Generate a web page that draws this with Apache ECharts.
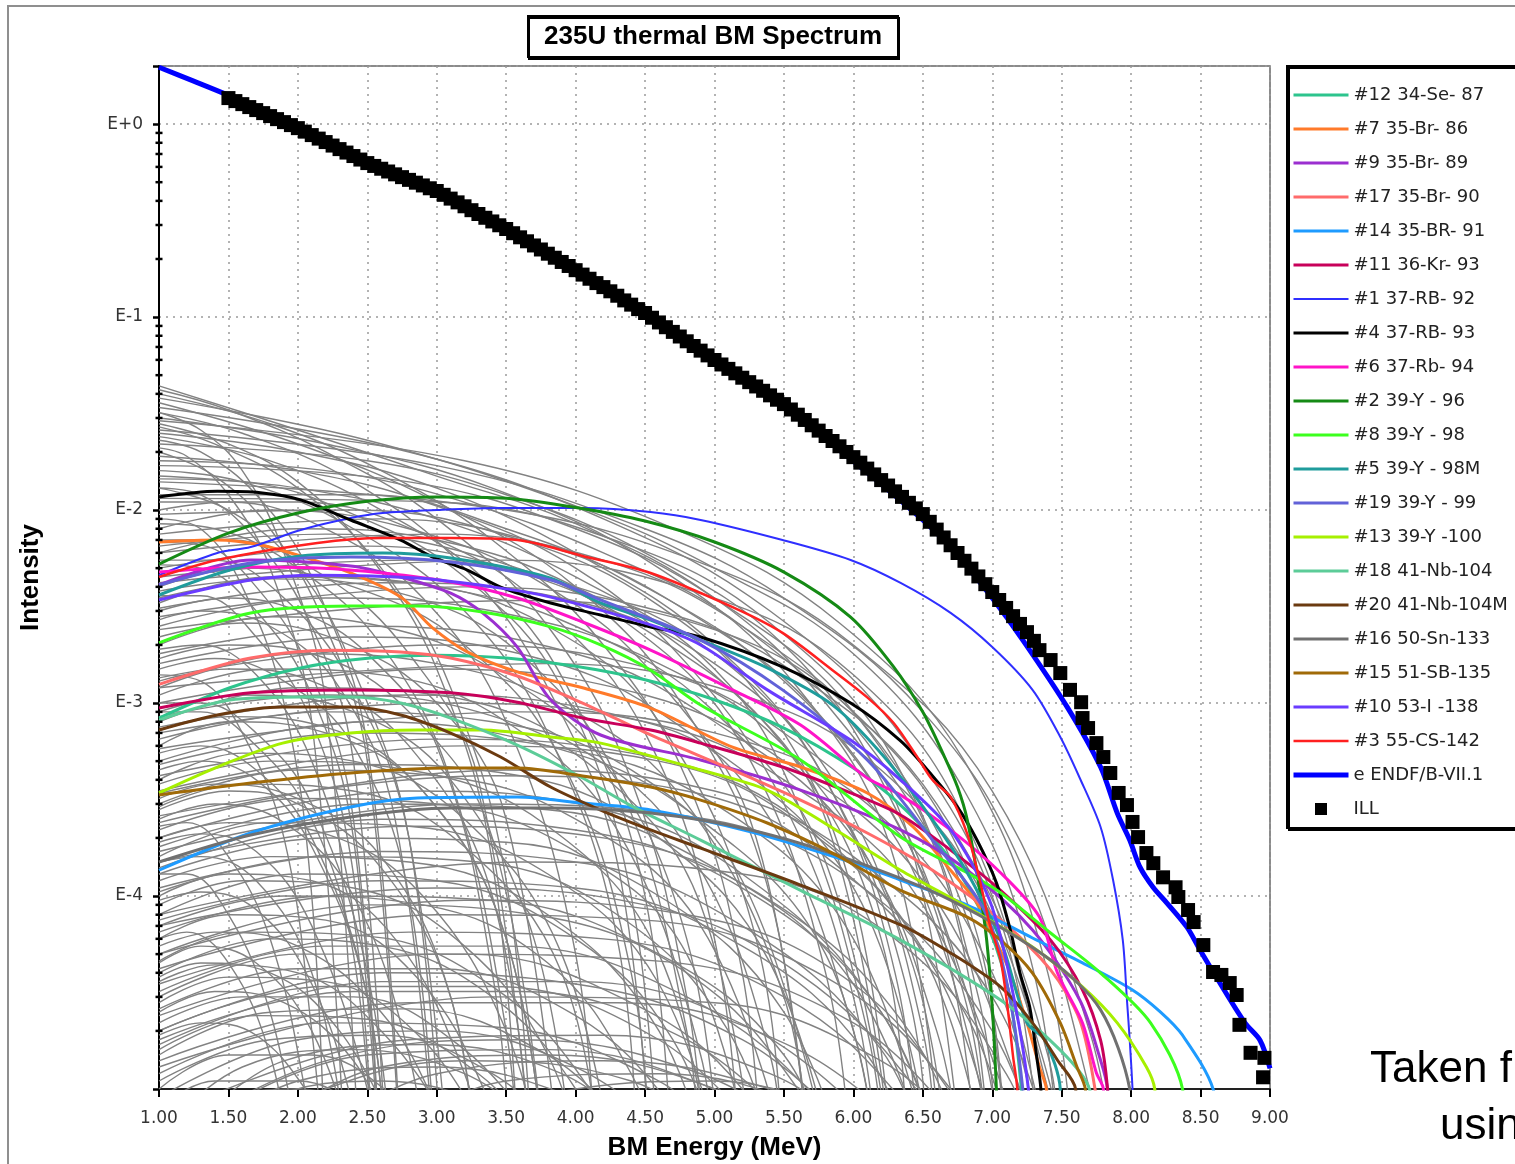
<!DOCTYPE html>
<html>
<head>
<meta charset="utf-8">
<title>235U thermal BM Spectrum</title>
<script src="https://cdn.jsdelivr.net/npm/echarts@6/dist/echarts.min.js"></script>
<style>
html, body { margin: 0; padding: 0; background: #fff; }
#chart { width: 1515px; height: 1164px; }
</style>
</head>
<body>
<div id="chart"></div>
<script>
// y tick labels of the log axis
var yTickValues = [1e-4, 1e-3, 1e-2, 1e-1, 1];
var yTickLabels = ['E-4', 'E-3', 'E-2', 'E-1', 'E+0'];
var minorTicks = [2e-5,3e-5,4e-5,5e-5,6e-5,7e-5,8e-5,9e-5,
  2e-4,3e-4,4e-4,5e-4,6e-4,7e-4,8e-4,9e-4,
  2e-3,3e-3,4e-3,5e-3,6e-3,7e-3,8e-3,9e-3,
  2e-2,3e-2,4e-2,5e-2,6e-2,7e-2,8e-2,9e-2,
  0.2,0.3,0.4,0.5,0.6,0.7,0.8,0.9];

// ILL measured points [MeV, intensity]
var ill = [[1.50,1.364],[1.55,1.316],[1.60,1.269],[1.65,1.225],[1.70,1.182],[1.75,1.140],[1.80,1.100],[1.85,1.061],[1.90,1.024],[1.95,0.988],
[2.00,0.953],[2.05,0.914],[2.10,0.877],[2.15,0.841],[2.20,0.807],[2.25,0.774],[2.30,0.742],[2.35,0.712],[2.40,0.683],[2.45,0.655],
[2.50,0.628],[2.55,0.607],[2.60,0.587],[2.65,0.568],[2.70,0.549],[2.75,0.531],[2.80,0.514],[2.85,0.497],[2.90,0.481],[2.95,0.465],
[3.00,0.450],[3.05,0.430],[3.10,0.411],[3.15,0.393],[3.20,0.375],[3.25,0.358],[3.30,0.342],[3.35,0.327],[3.40,0.313],[3.45,0.299],
[3.50,0.286],[3.55,0.272],[3.60,0.259],[3.65,0.247],[3.70,0.235],[3.75,0.224],[3.80,0.213],[3.85,0.203],[3.90,0.193],[3.95,0.184],
[4.00,0.175],[4.05,0.166],[4.10,0.158],[4.15,0.150],[4.20,0.143],[4.25,0.136],[4.30,0.129],[4.35,0.122],[4.40,0.116],[4.45,0.110],
[4.50,0.105],[4.55,0.0992],[4.60,0.0938],[4.65,0.0886],[4.70,0.0838],[4.75,0.0793],[4.80,0.0749],[4.85,0.0708],[4.90,0.0670],[4.95,0.0633],
[5.00,0.0599],[5.05,0.0568],[5.10,0.0539],[5.15,0.0511],[5.20,0.0485],[5.25,0.0460],[5.30,0.0437],[5.35,0.0415],[5.40,0.0393],[5.45,0.0373],
[5.50,0.0354],[5.55,0.0332],[5.60,0.0312],[5.65,0.0293],[5.70,0.0275],[5.75,0.0258],[5.80,0.0242],[5.85,0.0228],[5.90,0.0214],[5.95,0.0200],
[6.00,0.0188],[6.05,0.0176],[6.10,0.0164],[6.15,0.0153],[6.20,0.0143],[6.25,0.0134],[6.30,0.0125],[6.35,0.0117],[6.40,0.0109],[6.45,0.0102],
[6.50,0.00953],[6.55,0.00869],[6.60,0.00792],[6.65,0.00721],[6.70,0.00657],[6.75,0.00599],[6.80,0.00546],[6.85,0.00497],[6.90,0.00453],[6.95,0.00413],
[7.00,0.00376],[7.05,0.00342],[7.10,0.00311],[7.15,0.00282],[7.20,0.00257],[7.25,0.00233],[7.30,0.00210],
[7.34,0.00188],[7.42,0.00167],[7.49,0.00143],[7.56,0.00117],[7.64,0.00101],[7.65,0.000836],[7.69,0.000742],[7.75,0.000620],
[7.80,0.000525],[7.85,0.000434],[7.91,0.000342],[7.97,0.000296],[8.01,0.000242],[8.05,0.000202],[8.11,0.000167],[8.16,0.000148],
[8.23,0.000125],[8.32,0.000111],[8.34,0.0000988],[8.41,0.0000846],[8.45,0.0000733],[8.52,0.0000557],[8.59,0.0000404],[8.65,0.0000390],
[8.71,0.0000354],[8.76,0.0000307],[8.78,0.0000215],[8.86,0.0000154],[8.96,0.0000145],[8.95,0.0000115]];

// ENDF/B-VII.1 summation
var endf = [[1.0,1.97],[1.25,1.67],[1.5,1.41],[2.0,0.976],[2.5,0.635],[3.0,0.45],[3.5,0.283],[4.0,0.171],[4.5,0.101],
[5.0,5.78e-2],[5.5,3.38e-2],[6.0,1.79e-2],[6.5,8.88e-3],[6.75,5.85e-3],[7.0,3.5e-3],[7.22,2.12e-3],[7.54,9.53e-4],
[7.78,4.66e-4],[7.9,2.69e-4],[7.99,1.95e-4],[8.064,1.41e-4],[8.158,1.11e-4],[8.258,9.2e-5],[8.402,6.9e-5],
[8.496,5.25e-5],[8.626,3.67e-5],[8.82,2.2e-5],[8.928,1.79e-5],[9.0,1.28e-5]];

// individual nuclides
var se87 = [[1.0,8.36e-4],[1.51,1.2e-3],[2.02,1.52e-3],[2.52,1.71e-3],[3.0,1.77e-3],[3.5,1.71e-3],[4.0,1.55e-3],[4.5,1.32e-3],[5.0,1.04e-3],[5.5,7.42e-4],[6.0,4.6e-4],[6.34,2.96e-4],[6.7,1.54e-4],[6.98,6.67e-5],[7.13,2.89e-5],[7.21,1e-5],[7.25,4e-6]];
var br86 = [[1.0,6.83e-3],[1.42,6.99e-3],[1.73,6.59e-3],[2.02,5.78e-3],[2.38,4.72e-3],[2.74,3.54e-3],[2.97,2.45e-3],[3.22,1.84e-3],[3.58,1.45e-3],[4.05,1.2e-3],[4.54,9.42e-4],[5.13,5.91e-4],[5.62,4.66e-4],[6.1,3.42e-4],[6.43,2.28e-4],[6.7,1.36e-4],[6.89,9.2e-5],[7.0,6.43e-5],[7.13,3.99e-5],[7.25,2.2e-5],[7.34,1.3e-5],[7.39,1e-5],[7.42,4e-6]];
var br89 = [[1.0,4.09e-3],[1.66,5.51e-3],[2.38,5.13e-3],[2.74,4.5e-3],[3.1,3.71e-3],[3.33,2.93e-3],[3.58,1.95e-3],[3.82,1.04e-3],[4.18,6.83e-4],[4.9,5.07e-4],[5.62,3.54e-4],[6.34,2.2e-4],[6.82,1.36e-4],[7.29,6.67e-5],[7.63,2.89e-5],[7.78,1.41e-5],[7.83,1e-5],[7.86,4e-6]];
var br90 = [[1.0,1.25e-3],[1.66,1.71e-3],[2.25,1.88e-3],[2.74,1.84e-3],[3.1,1.71e-3],[3.58,1.38e-3],[4.05,1e-3],[4.54,6.83e-4],[5.13,4.5e-4],[5.62,3.14e-4],[6.1,2.12e-4],[6.57,1.36e-4],[7.06,7.51e-5],[7.42,4.14e-5],[7.63,2.28e-5],[7.74,1e-5],[7.8,4e-6]];
var br91 = [[1.0,1.36e-4],[1.66,2.12e-4],[2.38,2.89e-4],[2.86,3.22e-4],[3.58,3.26e-4],[4.05,3.03e-4],[4.54,2.79e-4],[5.26,2.15e-4],[5.98,1.5e-4],[6.34,1.21e-4],[6.82,8.98e-5],[7.29,6.06e-5],[7.65,4.5e-5],[8.01,3.26e-5],[8.21,2.51e-5],[8.37,1.9e-5],[8.59,1e-5],[8.65,4e-6]];
var kr93 = [[1.0,9.42e-4],[1.66,1.13e-3],[2.38,1.17e-3],[3.1,1.13e-3],[3.58,1.01e-3],[4.05,8.36e-4],[4.54,7.25e-4],[4.9,6.2e-4],[5.49,4.66e-4],[5.98,3.42e-4],[6.34,2.63e-4],[6.7,1.73e-4],[7.06,1.07e-4],[7.42,5.91e-5],[7.65,3.26e-5],[7.78,1.79e-5],[7.83,1e-5],[7.86,4e-6]];
var rb92 = [[1.0,4.6e-3],[1.42,5.99e-3],[1.66,6.43e-3],[2.02,7.88e-3],[2.38,9.09e-3],[2.61,9.65e-3],[3.0,1.0e-2],[3.46,1.024e-2],[4.05,1.024e-2],[4.54,9.76e-3],[4.9,8.88e-3],[5.49,6.99e-3],[5.98,5.51e-3],[6.34,4.19e-3],[6.7,2.93e-3],[7.0,1.95e-3],[7.29,1.17e-3],[7.49,6.67e-4],[7.63,4.09e-4],[7.78,2.28e-4],[7.87,1.21e-4],[7.94,5.91e-5],[7.97,2.89e-5],[7.99,1.79e-5],[8.01,1e-5],[8.03,4e-6]];
var rb93 = [[1.0,1.168e-2],[1.42,1.25e-2],[1.73,1.23e-2],[2.02,1.13e-2],[2.38,8.88e-3],[2.74,6.99e-3],[2.97,5.71e-3],[3.22,4.89e-3],[3.46,3.99e-3],[3.82,3.3e-3],[4.18,2.86e-3],[4.54,2.48e-3],[4.9,2.2e-3],[5.49,1.54e-3],[5.98,1.0e-3],[6.34,6.36e-4],[6.57,4.19e-4],[6.75,2.89e-4],[6.89,1.95e-4],[7.03,1.17e-4],[7.13,6.67e-5],[7.2,3.99e-5],[7.27,2.66e-5],[7.32,1.47e-5],[7.35,1e-5],[7.37,4e-6]];
var rb94 = [[1.0,4.77e-3],[1.66,5.07e-3],[2.14,5.01e-3],[2.61,4.72e-3],[3.1,4.24e-3],[3.58,3.5e-3],[4.05,2.63e-3],[4.54,1.88e-3],[5.13,1.17e-3],[5.62,7.69e-4],[6.1,4.09e-4],[6.34,3.34e-4],[6.7,2.2e-4],[7.06,1.32e-4],[7.34,7.78e-5],[7.47,3.99e-5],[7.65,2.2e-5],[7.75,1.21e-5],[7.8,1e-5],[7.82,4e-6]];
var y96 = [[1.0,5.25e-3],[1.5,7.6e-3],[2.0,9.65e-3],[2.5,1.11e-2],[3.0,1.17e-2],[3.5,1.15e-2],[4.0,1.03e-2],[4.5,8.77e-3],[5.0,6.83e-3],[5.5,4.77e-3],[5.98,2.79e-3],[6.29,1.54e-3],[6.5,8.98e-4],[6.65,5.38e-4],[6.75,3.67e-4],[6.82,2.48e-4],[6.91,1.07e-4],[6.96,5.9e-5],[7.0,2.66e-5],[7.03,1.0e-5],[7.05,4e-6]];
var y98 = [[1.0,2.05e-3],[1.66,2.93e-3],[2.38,3.18e-3],[2.86,3.18e-3],[3.33,2.96e-3],[3.82,2.48e-3],[4.18,2.0e-3],[4.54,1.48e-3],[4.9,9.76e-4],[5.62,5.07e-4],[6.34,2.02e-4],[6.82,1.32e-4],[7.06,1.04e-4],[7.42,6.43e-5],[7.78,3.99e-5],[8.14,2.2e-5],[8.37,1e-5],[8.4,4e-6]];
var y98m = [[1.0,3.63e-3],[1.51,4.89e-3],[2.02,5.78e-3],[2.61,5.99e-3],[3.1,5.64e-3],[3.82,4.44e-3],[4.18,3.3e-3],[4.54,2.69e-3],[4.9,2.12e-3],[5.38,1.52e-3],[5.85,9.76e-4],[6.21,5.38e-4],[6.57,2.48e-4],[6.82,1.32e-4],[7.06,5.91e-5],[7.25,2.2e-5],[7.38,1.79e-5],[7.49,1e-5],[7.5,4e-6]];
var y99 = [[1.0,4.09e-3],[1.66,5.31e-3],[2.38,5.71e-3],[3.1,5.38e-3],[3.82,4.34e-3],[4.18,3.42e-3],[4.9,2.12e-3],[5.49,1.17e-3],[6.1,5.07e-4],[6.57,1.95e-4],[6.93,8.77e-5],[7.09,3.99e-5],[7.22,1e-5],[7.24,4e-6]];
var y100 = [[1.0,3.42e-4],[1.42,4.66e-4],[1.89,6.2e-4],[2.38,6.99e-4],[2.86,7.25e-4],[3.33,7.25e-4],[3.82,6.67e-4],[4.18,6.2e-4],[4.9,4.5e-4],[5.38,3.54e-4],[5.85,2.25e-4],[6.34,1.36e-4],[6.82,8.77e-5],[7.29,5.44e-5],[7.65,3.38e-5],[7.9,2.2e-5],[8.11,1.3e-5],[8.17,1e-5],[8.2,4e-6]];
var nb104 = [[1.0,8.16e-4],[1.51,1.036e-3],[2.02,1.074e-3],[2.38,1.074e-3],[2.74,1e-3],[3.1,8.36e-4],[3.58,6.06e-4],[4.05,4.09e-4],[4.39,2.96e-4],[4.9,1.95e-4],[5.62,1.07e-4],[6.34,5.91e-5],[7.06,2.89e-5],[7.49,1.59e-5],[7.7,1e-5],[7.75,4e-6]];
var nb104m = [[1.0,7.25e-4],[1.42,8.67e-4],[1.89,9.53e-4],[2.38,9.53e-4],[2.74,8.67e-4],[3.1,6.99e-4],[3.46,5.25e-4],[3.82,3.67e-4],[4.18,2.79e-4],[4.54,2.2e-4],[4.9,1.77e-4],[5.62,1.14e-4],[6.34,7.08e-5],[6.7,5.07e-5],[7.06,3.38e-5],[7.29,2.2e-5],[7.47,1.41e-5],[7.6,1e-5],[7.62,4e-6]];
var sn133 = [[1.0,1.5e-4],[1.66,2.07e-4],[2.38,2.57e-4],[3.1,2.86e-4],[3.82,2.86e-4],[4.54,2.69e-4],[5.26,2.2e-4],[5.98,1.54e-4],[6.7,9.53e-5],[7.42,4.66e-5],[7.78,2.57e-5],[7.99,1e-5],[8.02,4e-6]];
var sb135 = [[1.0,3.34e-4],[1.66,3.85e-4],[2.38,4.34e-4],[3.1,4.6e-4],[3.58,4.6e-4],[4.05,4.19e-4],[4.54,3.67e-4],[4.9,3.14e-4],[5.38,2.39e-4],[5.85,1.67e-4],[6.34,1.07e-4],[6.82,7.78e-5],[7.06,5.91e-5],[7.29,3.99e-5],[7.49,2.2e-5],[7.61,1.3e-5],[7.67,1e-5],[7.7,4e-6]];
var i138 = [[1.0,3.42e-3],[1.66,4.34e-3],[2.14,4.6e-3],[2.86,4.44e-3],[3.46,3.94e-3],[3.82,3.54e-3],[4.54,2.54e-3],[4.9,2.0e-3],[5.38,1.17e-3],[5.98,6.43e-4],[6.34,3.99e-4],[6.7,2.2e-4],[6.98,9.53e-5],[7.13,3.67e-5],[7.26,1e-5],[7.28,4e-6]];
var cs142 = [[1.0,4.5e-3],[1.42,5.51e-3],[2.14,6.75e-3],[2.61,7.16e-3],[3.1,7.16e-3],[3.58,6.99e-3],[4.05,5.78e-3],[4.54,4.72e-3],[5.13,3.14e-3],[5.49,2.31e-3],[5.85,1.48e-3],[6.1,1.07e-3],[6.29,7.88e-4],[6.46,5.25e-4],[6.57,3.99e-4],[6.7,3.26e-4],[6.82,2.1e-4],[6.91,1.21e-4],[6.98,7.25e-5],[7.06,4.66e-5],[7.11,2.66e-5],[7.15,1.47e-5],[7.18,1e-5],[7.19,4e-6]];

// the other fission products (grey)
var grayCurves = [
[[1,4.4e-2],[2,2.6e-2],[3,1.5e-2],[4,8.5e-3],[5,3.5e-3],[5.8,1e-3],[6.4,2e-4],[6.8,3e-6]],
[[1,4e-2],[1.8,2.8e-2],[2.6,1.6e-2],[3.4,7e-3],[4.2,2e-3],[4.8,4e-4],[5.2,4e-5],[5.35,3e-6]],
[[1,3.6e-2],[2,2.2e-2],[3,1.1e-2],[4,4e-3],[4.8,9e-4],[5.4,1e-4],[5.7,3e-6]],
[[1,3.2e-2],[1.6,2.5e-2],[2.4,1.4e-2],[3.2,5e-3],[3.8,1.2e-3],[4.3,1.5e-4],[4.55,3e-6]],
[[1,3e-2],[2.2,2.2e-2],[3.4,1.3e-2],[4.6,5e-3],[5.6,1.2e-3],[6.3,1.5e-4],[6.65,3e-6]],
[[1,2.8e-2],[1.5,2.2e-2],[2,1.4e-2],[2.5,6e-3],[3,1.5e-3],[3.4,1.5e-4],[3.6,3e-6]],
[[1,2.5e-2],[2,2e-2],[3,1.3e-2],[4,6e-3],[5,2e-3],[5.8,4e-4],[6.3,4e-5],[6.5,3e-6]],
[[1,2.4e-2],[1.8,1.8e-2],[2.6,1e-2],[3.4,4e-3],[4,1e-3],[4.5,1e-4],[4.7,3e-6]],
[[1,2.2e-2],[2.5,1.8e-2],[3.5,1.2e-2],[4.5,6e-3],[5.5,2e-3],[6.2,4e-4],[6.8,3e-5],[7,3e-6]],
[[1,2e-2],[1.4,1.5e-2],[1.8,8e-3],[2.2,2.5e-3],[2.5,5e-4],[2.75,3e-6]],
[[1,1.9e-2],[2,1.6e-2],[3,1.05e-2],[4,5e-3],[4.8,1.6e-3],[5.5,3e-4],[6,3e-5],[6.2,3e-6]],
[[1,1.8e-2],[2.2,1.6e-2],[3.2,1.1e-2],[4.2,6e-3],[5.2,2.5e-3],[6.2,5e-4],[6.9,5e-5],[7.1,3e-6]],
[[1,1.6e-2],[1.6,1.4e-2],[2.4,8e-3],[3.2,3e-3],[3.8,7e-4],[4.3,6e-5],[4.45,3e-6]],
[[1,1.5e-2],[2,1.3e-2],[3,9e-3],[4,4.5e-3],[5,1.5e-3],[5.6,3e-4],[6.1,2e-5],[6.25,3e-6]],
[[1,1.3e-2],[1.5,1e-2],[2,5e-3],[2.4,1.5e-3],[2.8,2e-4],[3.05,3e-6]],
[[1,1.2e-2],[2.5,1.2e-2],[3.5,8e-3],[4.5,4e-3],[5.5,1.3e-3],[6.3,2.5e-4],[6.9,2e-5],[7.1,3e-6]],
[[1,3.8e-2],[2.5,2.3e-2],[4,1.05e-2],[5,5e-3],[6,1.8e-3],[6.8,3.5e-4],[7.3,4e-5],[7.5,3e-6]],
[[1,2.6e-2],[3,1.7e-2],[4.5,8e-3],[5.5,3.5e-3],[6.5,9e-4],[7.2,1.5e-4],[7.7,1e-5],[7.8,3e-6]],
[[1,8e-3],[1.8,1e-2],[2.8,8e-3],[3.8,4e-3],[4.6,1.3e-3],[5.3,2e-4],[5.7,3e-6]],
[[1,6e-3],[2,8e-3],[3,7e-3],[4,4e-3],[5,1.4e-3],[5.8,2.5e-4],[6.3,3e-6]],
[[1,7e-3],[1.5,7e-3],[2.2,4.5e-3],[2.8,1.8e-3],[3.3,4e-4],[3.7,3e-6]],
[[1,5e-3],[2.5,6.5e-3],[3.5,5e-3],[4.5,2.4e-3],[5.5,6e-4],[6.2,6e-5],[6.4,3e-6]],
[[1,4e-3],[1.6,5e-3],[2.4,4e-3],[3.2,2e-3],[3.9,5e-4],[4.4,4e-5],[4.55,3e-6]],
[[1,3.5e-3],[2,4.5e-3],[3,4e-3],[4,2.5e-3],[5,9e-4],[5.8,1.5e-4],[6.3,3e-6]],
[[1,3e-3],[1.5,3.5e-3],[2,3e-3],[2.5,1.8e-3],[3,6e-4],[3.4,4e-5],[3.55,3e-6]],
[[1,2.5e-3],[2.2,3.5e-3],[3.4,3e-3],[4.6,1.6e-3],[5.6,5e-4],[6.4,5e-5],[6.7,3e-6]],
[[1,2e-3],[1.8,2.8e-3],[2.6,2.5e-3],[3.4,1.5e-3],[4.2,5e-4],[4.8,6e-5],[5.05,3e-6]],
[[1,1.8e-3],[2.5,2.5e-3],[4,1.8e-3],[5,8e-4],[6,2e-4],[6.6,2e-5],[6.8,3e-6]],
[[1,1.5e-3],[1.4,1.7e-3],[1.9,1.3e-3],[2.4,6e-4],[2.8,1e-4],[3,3e-6]],
[[1,1.2e-3],[2,1.8e-3],[3,1.6e-3],[4,9e-4],[4.8,3e-4],[5.5,3e-5],[5.7,3e-6]],
[[1,1e-3],[3,1.5e-3],[4.5,1.1e-3],[5.5,5e-4],[6.5,1.2e-4],[7.2,1e-5],[7.3,3e-6]],
[[1,9e-3],[1.3,8e-3],[1.6,4e-3],[1.9,1e-3],[2.1,1e-4],[2.2,3e-6]],
[[1,6e-3],[3,7.5e-3],[4.2,5.5e-3],[5.2,2.5e-3],[6.2,6e-4],[6.9,6e-5],[7.1,3e-6]],
[[1,4.5e-3],[2.8,5.5e-3],[4,4e-3],[5,1.8e-3],[5.8,4e-4],[6.4,3e-5],[6.55,3e-6]],
[[1,3.3e-3],[1.8,4.5e-3],[2.8,4.2e-3],[3.8,2.5e-3],[4.6,8e-4],[5.3,6e-5],[5.5,3e-6]],
[[1,2.2e-3],[1.6,2.6e-3],[2.3,2.1e-3],[3,1e-3],[3.5,2.5e-4],[3.9,3e-6]],
[[1,8e-4],[2,1.2e-3],[3,1.1e-3],[4,6e-4],[4.8,1.8e-4],[5.4,1.5e-5],[5.5,3e-6]],
[[1,6e-4],[1.5,8e-4],[2.2,7e-4],[2.9,3.5e-4],[3.5,6e-5],[3.8,3e-6]],
[[1,5e-4],[2.5,8e-4],[3.8,6e-4],[4.8,2.8e-4],[5.8,5e-5],[6.2,3e-6]],
[[1,4e-4],[1.6,5.5e-4],[2.4,5e-4],[3.2,2.5e-4],[3.9,5e-5],[4.3,3e-6]],
[[1,3e-4],[2,4.5e-4],[3,4.2e-4],[4,2.5e-4],[4.9,7e-5],[5.5,5e-6]],
[[1,2.5e-4],[1.4,3e-4],[1.9,2.4e-4],[2.4,1e-4],[2.8,1.5e-5],[2.95,3e-6]],
[[1,2e-4],[2.8,3.5e-4],[4.2,2.8e-4],[5.2,1.3e-4],[6.2,2.5e-5],[6.7,3e-6]],
[[1,1.6e-4],[1.8,2.4e-4],[2.8,2.3e-4],[3.8,1.3e-4],[4.6,3.5e-5],[5.1,3e-6]],
[[1,1.3e-4],[2.2,2e-4],[3.5,1.9e-4],[4.6,1e-4],[5.5,2.5e-5],[6,3e-6]],
[[1,1e-4],[1.5,1.3e-4],[2.1,1.2e-4],[2.7,6e-5],[3.2,1.2e-5],[3.4,3e-6]],
[[1,9e-4],[1.3,9e-4],[1.7,6e-4],[2.1,2.5e-4],[2.4,5e-5],[2.55,3e-6]],
[[1,7e-4],[3,1e-3],[4.5,8e-4],[5.5,4e-4],[6.5,9e-5],[7.2,5e-6]],
[[1,3.5e-4],[3.2,6e-4],[4.6,5e-4],[5.6,2.4e-4],[6.5,5e-5],[7,3e-6]],
[[1,1.8e-4],[2.5,3e-4],[3.8,2.8e-4],[5,1.4e-4],[6,3.5e-5],[6.6,3e-6]],
[[1,8e-5],[2,1.3e-4],[3,1.2e-4],[4,6e-5],[4.7,1.8e-5],[5.1,3e-6]],
[[1,6e-5],[1.5,8e-5],[2.2,7.5e-5],[2.9,3.5e-5],[3.4,8e-6],[3.6,3e-6]],
[[1,5e-5],[2.5,9e-5],[3.7,8e-5],[4.8,4e-5],[5.6,1e-5],[5.9,3e-6]],
[[1,4e-5],[1.8,6e-5],[2.6,5.5e-5],[3.4,3e-5],[4,1e-5],[4.3,3e-6]],
[[1,3e-5],[2,5e-5],[3.2,5e-5],[4.4,2.8e-5],[5.2,1e-5],[5.5,3e-6]],
[[1,2.5e-5],[1.4,3.2e-5],[1.9,2.8e-5],[2.4,1.4e-5],[2.7,5e-6]],
[[1,2e-5],[2.6,4e-5],[4,3.5e-5],[5.2,1.8e-5],[6,6e-6]],
[[1,1.5e-5],[1.8,2.5e-5],[2.8,2.6e-5],[3.8,1.5e-5],[4.4,6e-6]],
[[1,1.2e-5],[2.2,2.2e-5],[3.4,2.1e-5],[4.6,1.1e-5],[5.1,5e-6]],
[[1,6e-6],[1.6,1.3e-5],[2.4,1.6e-5],[3.2,1.2e-5],[3.8,6e-6]],
[[1,5e-6],[2.5,1.5e-5],[3.8,1.6e-5],[5,1e-5],[5.6,5e-6]],
[[1,1.1e-4],[2.6,1.7e-4],[4,1.5e-4],[5.2,7e-5],[6.2,1.6e-5],[6.6,3e-6]],
[[1,7e-5],[3,1.1e-4],[4.5,9e-5],[5.6,4e-5],[6.5,9e-6],[6.8,3e-6]],
[[1,2.8e-4],[1.5,3.5e-4],[2,3e-4],[2.6,1.4e-4],[3.1,3e-5],[3.3,3e-6]],
[[1,4.5e-5],[1.3,5.5e-5],[1.7,4.5e-5],[2.1,2e-5],[2.4,5e-6]],
[[1,1.4e-3],[1.3,1.3e-3],[1.6,7e-4],[1.9,2e-4],[2.1,2e-5],[2.2,3e-6]],
[[1,2.4e-4],[3.5,4.5e-4],[5,3.5e-4],[6,1.6e-4],[7,3e-5],[7.5,3e-6]],
[[1,9e-6],[2,1.8e-5],[3,2e-5],[4,1.3e-5],[4.8,5e-6]],
[[1,3.5e-5],[2.8,6.5e-5],[4.2,6e-5],[5.5,3e-5],[6.4,8e-6],[6.7,3e-6]],
[[1,1.5e-4],[1.3,1.6e-4],[1.7,1.2e-4],[2.1,4e-5],[2.35,5e-6]],
[[1,1e-2],[1.5,1.1e-2],[2.2,8e-3],[2.9,3.5e-3],[3.5,8e-4],[4,5e-5],[4.15,3e-6]],
[[1,7.5e-3],[2.6,9e-3],[3.8,6.5e-3],[4.8,3e-3],[5.8,8e-4],[6.6,8e-5],[6.9,3e-6]],
[[1,5.5e-3],[1.4,5.5e-3],[1.9,3.5e-3],[2.4,1.2e-3],[2.8,2e-4],[3.1,3e-6]],
[[1,2.8e-3],[3.2,4e-3],[4.6,3e-3],[5.6,1.4e-3],[6.6,3e-4],[7.4,1.5e-5],[7.5,3e-6]],
[[1,1.7e-3],[1.5,2e-3],[2.1,1.8e-3],[2.8,9e-4],[3.4,2e-4],[3.8,3e-6]],
[[1,1.1e-3],[1.8,1.5e-3],[2.6,1.4e-3],[3.5,8e-4],[4.3,2.2e-4],[4.9,1.5e-5],[5,3e-6]],
[[1,4.5e-4],[1.3,5e-4],[1.7,4e-4],[2.1,1.8e-4],[2.5,3e-5],[2.65,3e-6]],
[[1,3.2e-2],[1.3,2.6e-2],[1.6,1.6e-2],[1.9,6e-3],[2.2,1e-3],[2.45,3e-6]],
[[1,2.1e-2],[1.2,1.9e-2],[1.5,1.2e-2],[1.8,5e-3],[2.1,8e-4],[2.35,3e-6]],
[[1,1.4e-2],[3.5,1e-2],[5,5e-3],[6,2e-3],[7,3.5e-4],[7.7,2e-5],[7.9,3e-6]],
[[1,4.2e-2],[1.5,3.3e-2],[2.2,2e-2],[3,9e-3],[3.8,2.5e-3],[4.4,4e-4],[4.8,3e-5],[4.95,3e-6]],
[[1,3.4e-2],[2.8,2e-2],[4.2,9e-3],[5.4,3e-3],[6.4,6e-4],[7.1,6e-5],[7.35,3e-6]],
[[1,2.7e-2],[1.4,2.2e-2],[2,1.3e-2],[2.6,5e-3],[3.1,1.2e-3],[3.5,1.2e-4],[3.7,3e-6]],
[[1,1.7e-2],[2.8,1.4e-2],[4,8e-3],[5,3.5e-3],[6,9e-4],[6.7,1e-4],[7,3e-6]],
[[1,1.1e-2],[2,1.1e-2],[3,7e-3],[3.8,3e-3],[4.5,7e-4],[5,6e-5],[5.2,3e-6]],
[[1,8.5e-3],[1.4,8e-3],[2,5e-3],[2.6,2e-3],[3.1,4e-4],[3.5,2e-5],[3.6,3e-6]],
[[1,6.5e-3],[2.2,7.5e-3],[3.4,5.5e-3],[4.4,2.5e-3],[5.2,6e-4],[5.8,4e-5],[6,3e-6]],
[[1,4.2e-3],[3.5,5.5e-3],[5,3.5e-3],[6,1.4e-3],[6.8,2.5e-4],[7.4,1e-5],[7.5,3e-6]],
[[1,2.7e-3],[1.3,3e-3],[1.8,2.5e-3],[2.3,1.2e-3],[2.7,2.5e-4],[3,3e-6]],
[[1,1.6e-3],[2.4,2.2e-3],[3.6,1.8e-3],[4.6,9e-4],[5.4,2.5e-4],[6,2e-5],[6.2,3e-6]],
[[1,9e-4],[1.6,1.1e-3],[2.4,9e-4],[3.1,4e-4],[3.7,6e-5],[4,3e-6]],
[[1,6.5e-4],[2.2,9e-4],[3.4,8e-4],[4.4,4.5e-4],[5.2,1.2e-4],[5.8,5e-6]],
[[1,4.2e-4],[3,6.5e-4],[4.4,5.5e-4],[5.6,2.5e-4],[6.6,4e-5],[7.1,3e-6]],
[[1,3.2e-4],[1.4,3.8e-4],[2,3.2e-4],[2.6,1.6e-4],[3.1,3e-5],[3.3,3e-6]],
[[1,2.2e-4],[2,3.2e-4],[3,3e-4],[4,1.7e-4],[4.8,5e-5],[5.3,3e-6]],
[[1,1.4e-4],[2.6,2.5e-4],[4,2.2e-4],[5.2,1.1e-4],[6.2,2.5e-5],[6.7,3e-6]],
[[1,9e-5],[1.6,1.2e-4],[2.4,1.1e-4],[3.2,5.5e-5],[3.8,1.5e-5],[4.1,3e-6]],
[[1,6.5e-5],[2.2,1e-4],[3.4,9.5e-5],[4.6,5e-5],[5.5,1.5e-5],[5.9,3e-6]],
[[1,4.2e-5],[3,8e-5],[4.5,7.5e-5],[5.8,3.8e-5],[6.7,1e-5],[7,3e-6]],
[[1,2.8e-5],[1.5,3.8e-5],[2.2,3.6e-5],[2.9,1.8e-5],[3.4,5e-6]],
[[1,1.8e-5],[2.4,3.2e-5],[3.6,3.2e-5],[4.8,1.8e-5],[5.6,6e-6]],
[[1,1.1e-5],[1.8,1.8e-5],[2.6,1.9e-5],[3.4,1.2e-5],[4,5e-6]],
[[1,7e-6],[2.8,1.8e-5],[4.2,1.9e-5],[5.4,1.2e-5],[6.2,5e-6]],
[[1.2,5e-6],[2,1.1e-5],[3,1.3e-5],[4,9e-6],[4.6,5e-6]],
[[1,4e-6],[1.8,9e-6],[2.6,1.1e-5],[3.4,8e-6],[4,4e-6]],
[[2,5e-6],[3,1.2e-5],[4.2,1.4e-5],[5.4,1e-5],[6.3,5e-6]],
[[1,1.9e-4],[1.3,2.1e-4],[1.7,1.7e-4],[2.1,7e-5],[2.5,1e-5],[2.6,3e-6]],
[[1,5.5e-4],[1.3,6e-4],[1.7,4.5e-4],[2.1,2e-4],[2.5,3e-5],[2.65,3e-6]],
[[1,1.2e-3],[3.8,1.6e-3],[5.2,1.1e-3],[6.2,4.5e-4],[7,8e-5],[7.6,3e-6]],
[[1,2.4e-3],[3.6,3.4e-3],[5,2.4e-3],[6,9e-4],[6.8,1.5e-4],[7.4,5e-6]],
[[1,5.2e-3],[1.3,5e-3],[1.7,3e-3],[2.1,1.1e-3],[2.4,2e-4],[2.6,3e-6]],
[[1,3.8e-3],[1.8,4.4e-3],[2.8,3.6e-3],[3.6,1.8e-3],[4.3,4e-4],[4.8,2e-5],[4.9,3e-6]],
[[1,1.3e-3],[1.5,1.5e-3],[2.1,1.3e-3],[2.8,6e-4],[3.4,1e-4],[3.7,3e-6]],
[[1,7.5e-4],[2.8,1.1e-3],[4.2,9e-4],[5.2,4.5e-4],[6.1,8e-5],[6.6,3e-6]],
[[1,3.8e-4],[1.8,5e-4],[2.8,4.5e-4],[3.8,2.3e-4],[4.6,5e-5],[5,3e-6]],
[[1,2.6e-4],[3.4,4.2e-4],[4.8,3.5e-4],[5.8,1.6e-4],[6.8,2.5e-5],[7.2,3e-6]],
[[1,1.2e-4],[1.8,1.6e-4],[2.8,1.5e-4],[3.8,8e-5],[4.6,2e-5],[5,3e-6]],
[[1,7.5e-5],[2.6,1.2e-4],[4,1.1e-4],[5.2,5.5e-5],[6.1,1.5e-5],[6.5,3e-6]],
[[1,5.5e-5],[1.4,6.5e-5],[2,5.5e-5],[2.6,2.5e-5],[3,8e-6],[3.2,3e-6]],
[[1,3.2e-5],[2.2,5.5e-5],[3.5,5.5e-5],[4.8,3e-5],[5.8,8e-6],[6.1,3e-6]],
[[1,2.2e-5],[1.6,3e-5],[2.4,3e-5],[3.2,1.6e-5],[3.8,5e-6]],
[[1,1.4e-5],[2.8,2.8e-5],[4.3,2.8e-5],[5.6,1.6e-5],[6.5,5e-6]],
[[1,8e-6],[1.4,1.1e-5],[2,1.1e-5],[2.6,6e-6],[2.9,3e-6]],
[[1,2.9e-2],[3.2,1.8e-2],[4.8,7.5e-3],[5.9,2.6e-3],[6.8,5e-4],[7.4,4e-5],[7.6,3e-6]],
[[1,1.3e-2],[1.3,1.2e-2],[1.7,7e-3],[2.1,2.5e-3],[2.4,5e-4],[2.65,3e-6]],
[[1,9.5e-3],[2.4,1e-2],[3.6,7e-3],[4.6,3.2e-3],[5.4,9e-4],[6,1e-4],[6.3,3e-6]],
[[1,2e-4],[1.5,2.4e-4],[2.2,2.1e-4],[2.9,1e-4],[3.5,2e-5],[3.8,3e-6]],
[[1,1e-3],[1.3,1e-3],[1.7,7e-4],[2.1,3e-4],[2.5,4e-5],[2.7,3e-6]],
[[1,4.8e-4],[2.4,7e-4],[3.8,6e-4],[5,3e-4],[6,6e-5],[6.6,3e-6]],
[[1,1.7e-4],[3.2,3e-4],[4.8,2.6e-4],[6,1.2e-4],[7,2e-5],[7.4,3e-6]],
[[1,9.5e-5],[1.3,1.05e-4],[1.7,8.5e-5],[2.1,3.5e-5],[2.4,8e-6],[2.5,3e-6]],
[[1,7e-5],[1.9,1e-4],[2.9,9e-5],[3.8,4.5e-5],[4.4,1.2e-5],[4.7,3e-6]],
[[1,5e-5],[3.2,9.5e-5],[4.8,8e-5],[6,3.5e-5],[6.9,6e-6],[7.1,3e-6]],
[[1,3.8e-5],[1.3,4.5e-5],[1.8,4e-5],[2.3,2e-5],[2.7,6e-6]],
[[1,2.6e-5],[2,4.2e-5],[3,4.2e-5],[4,2.4e-5],[4.7,8e-6],[5,3e-6]],
[[1,1.7e-5],[2.6,3.6e-5],[4,3.6e-5],[5.3,2e-5],[6.2,6e-6]],
[[1,1e-5],[1.5,1.5e-5],[2.1,1.5e-5],[2.7,9e-6],[3.1,4e-6]],
[[1,1.3e-5],[3.4,3e-5],[5,2.8e-5],[6.2,1.4e-5],[6.9,5e-6]],
[[1.1,5e-6],[1.9,1.4e-5],[2.9,1.7e-5],[3.9,1.2e-5],[4.6,5e-6]],
[[1.5,5e-6],[2.2,1e-5],[3.2,1.4e-5],[4.4,1.1e-5],[5.2,5e-6]],
[[1,3e-6],[1.4,8e-6],[2,1e-5],[2.6,7e-6],[3,4e-6]],
[[2.5,5e-6],[3.5,1.1e-5],[4.6,1.2e-5],[5.7,8e-6],[6.4,4e-6]],
[[1,2.3e-4],[1.2,2.4e-4],[1.5,1.6e-4],[1.8,6e-5],[2.05,1e-5],[2.15,3e-6]],
[[1,1.3e-4],[1.2,1.3e-4],[1.5,8e-5],[1.8,2.5e-5],[2,5e-6]],
[[1,6e-5],[1.2,6.5e-5],[1.5,4.5e-5],[1.8,1.5e-5],[1.95,4e-6]],
[[1,3.4e-4],[2.4,4.8e-4],[3.6,4.2e-4],[4.6,2e-4],[5.4,4.5e-5],[5.9,3e-6]],
[[1,1.05e-4],[2.2,1.6e-4],[3.3,1.5e-4],[4.3,8e-5],[5.1,2e-5],[5.5,3e-6]],
[[1,4.6e-5],[1.6,6.5e-5],[2.5,6.2e-5],[3.4,3.4e-5],[4.1,1e-5],[4.4,3e-6]],
[[1,2.4e-5],[3,5e-5],[4.6,4.6e-5],[6,2.2e-5],[6.8,6e-6]],
[[1,1.6e-5],[1.7,2.4e-5],[2.5,2.3e-5],[3.3,1.2e-5],[3.9,4e-6]],
[[1,8.5e-4],[2.2,1.1e-3],[3.3,9e-4],[4.2,4.2e-4],[4.9,9e-5],[5.3,3e-6]],
[[1,5.8e-4],[3.6,9e-4],[5,7e-4],[6.1,3e-4],[7,4e-5],[7.4,3e-6]],
[[1,3.6e-3],[1.3,3.6e-3],[1.7,2.2e-3],[2.1,8e-4],[2.4,1.3e-4],[2.6,3e-6]],
[[1,1.9e-3],[1.3,2e-3],[1.7,1.4e-3],[2.1,5e-4],[2.4,8e-5],[2.55,3e-6]],
[[1,2.3e-2],[1.3,2e-2],[1.7,1.2e-2],[2.1,4.5e-3],[2.5,6e-4],[2.75,3e-6]],
[[1,1.45e-2],[1.6,1.4e-2],[2.4,9.5e-3],[3.2,4.5e-3],[3.9,1.2e-3],[4.4,1e-4],[4.6,3e-6]],
[[1,1.15e-2],[3,1.1e-2],[4.4,6.5e-3],[5.4,2.6e-3],[6.3,5e-4],[6.9,3e-5],[7.05,3e-6]],
[[1,6.8e-3],[1.3,6.6e-3],[1.7,4e-3],[2.1,1.4e-3],[2.4,2.5e-4],[2.6,3e-6]],
[[1,3.1e-3],[2.6,4.2e-3],[3.9,3.5e-3],[5,1.6e-3],[5.9,3.5e-4],[6.5,2e-5],[6.6,3e-6]],
[[1,1.35e-3],[3,2e-3],[4.4,1.6e-3],[5.5,7e-4],[6.4,1.5e-4],[7,5e-6]],
[[1,7.2e-4],[1.5,8.5e-4],[2.2,7.5e-4],[2.9,3.5e-4],[3.5,6e-5],[3.8,3e-6]],
[[1,2.9e-4],[1.6,3.8e-4],[2.4,3.5e-4],[3.2,1.8e-4],[3.9,4e-5],[4.2,3e-6]],
[[1,8e-5],[3.6,1.5e-4],[5.2,1.3e-4],[6.3,6e-5],[7.1,1.2e-5],[7.4,3e-6]],
[[1,3.6e-5],[1.4,4.4e-5],[2,4e-5],[2.6,2e-5],[3.1,6e-6],[3.2,3e-6]],
[[1,2e-5],[2.2,3.4e-5],[3.4,3.4e-5],[4.6,1.8e-5],[5.4,5e-6]],
[[1,5.2e-6],[2.2,1.4e-5],[3.6,1.8e-5],[4.9,1.2e-5],[5.8,5e-6]],
[[1.6,5e-6],[2.6,1.3e-5],[3.8,1.5e-5],[5,1e-5],[5.9,4e-6]],
[[3,5e-6],[4,1e-5],[5,1.1e-5],[6,7e-6],[6.6,4e-6]],
[[1,1.9e-5],[1.3,2.2e-5],[1.7,1.9e-5],[2.1,9e-6],[2.4,4e-6]],
[[1,1.5e-4],[2.8,2.3e-4],[4.2,2e-4],[5.4,9.5e-5],[6.4,2e-5],[6.9,3e-6]]
];

var nuclides = [
  {name: '#12 34-Se- 87', data: se87, color: '#2dc48d', width: 3},
  {name: '#7 35-Br- 86', data: br86, color: '#ff7a2a', width: 3},
  {name: '#9 35-Br- 89', data: br89, color: '#9b2fd0', width: 3},
  {name: '#17 35-Br- 90', data: br90, color: '#ff6b6b', width: 3},
  {name: '#14 35-BR- 91', data: br91, color: '#1e9bff', width: 3},
  {name: '#11 36-Kr- 93', data: kr93, color: '#c8005a', width: 3},
  {name: '#1 37-RB- 92', data: rb92, color: '#2f2fff', width: 2},
  {name: '#4 37-RB- 93', data: rb93, color: '#000000', width: 3},
  {name: '#6 37-Rb- 94', data: rb94, color: '#ff14c8', width: 3},
  {name: '#2 39-Y - 96', data: y96, color: '#158a15', width: 3},
  {name: '#8 39-Y - 98', data: y98, color: '#3cff1e', width: 3},
  {name: '#5 39-Y - 98M', data: y98m, color: '#1f9c9c', width: 3},
  {name: '#19 39-Y - 99', data: y99, color: '#6262d8', width: 3},
  {name: '#13 39-Y -100', data: y100, color: '#a6f000', width: 3},
  {name: '#18 41-Nb-104', data: nb104, color: '#5ccc98', width: 3},
  {name: '#20 41-Nb-104M', data: nb104m, color: '#6b3a10', width: 3},
  {name: '#16 50-Sn-133', data: sn133, color: '#707070', width: 3},
  {name: '#15 51-SB-135', data: sb135, color: '#a06a08', width: 3},
  {name: '#10 53-I -138', data: i138, color: '#6a3cff', width: 3},
  {name: '#3 55-CS-142', data: cs142, color: '#ff2020', width: 2.5}
];

var labelFont = 'DejaVu Sans';
var boldFont = 'Liberation Sans';
var gridDots = {color: '#9a9a9a', width: 1.5, type: [2, 5]};

var series = [];
for (var i = 0; i < grayCurves.length; i++) {
  series.push({
    type: 'line', name: 'other ' + i, data: grayCurves[i],
    smooth: 0.4, symbol: 'none', silent: true, z: 1,
    lineStyle: {color: '#828282', width: 1.4}
  });
}
for (var k = 0; k < nuclides.length; k++) {
  var n = nuclides[k];
  series.push({
    type: 'line', name: n.name, data: n.data,
    smooth: 0.3, symbol: 'none', z: 2,
    itemStyle: {color: n.color},
    lineStyle: {color: n.color, width: n.width}
  });
}
series.push({
  type: 'line', name: 'e ENDF/B-VII.1', data: endf,
  smooth: 0.3, symbol: 'none', z: 3,
  itemStyle: {color: '#0000ff'},
  lineStyle: {color: '#0000ff', width: 5}
});
series.push({
  type: 'scatter', name: 'ILL', data: ill,
  symbol: 'rect', symbolSize: 14, z: 4,
  itemStyle: {color: '#000', opacity: 1}
});
// minor decade ticks on the intensity axis
series.push({
  type: 'scatter', name: 'minor', silent: true, clip: false, z: 6,
  data: minorTicks.map(function (v) { return [1, v]; }),
  symbol: 'rect', symbolSize: [7, 2.5], itemStyle: {color: '#000', opacity: 1}
});

var legendData = nuclides.map(function (n) { return {name: n.name}; });
legendData.push({name: 'e ENDF/B-VII.1'});
legendData.push({name: 'ILL', icon: 'path://M0 0H10V10H0Z', itemStyle: {opacity: 1}});

var chart = echarts.init(document.getElementById('chart'));
chart.setOption({
  animation: false,
  backgroundColor: '#fff',
  title: {
    text: '235U thermal BM Spectrum',
    left: 528, top: 16,
    padding: [6, 16, 5, 16],
    borderColor: '#000', borderWidth: 2,
    backgroundColor: '#fff',
    shadowColor: '#000', shadowOffsetX: 1, shadowOffsetY: 2,
    textStyle: {fontFamily: boldFont, fontWeight: 'bold', fontSize: 26, lineHeight: 30, color: '#000'}
  },
  legend: {
    orient: 'vertical', left: 1287, top: 66,
    padding: [20, 24, 10, 4],
    itemWidth: 55, itemHeight: 12, itemGap: 16,
    borderColor: '#000', borderWidth: 2, backgroundColor: '#fff',
    shadowColor: '#000', shadowOffsetX: 2, shadowOffsetY: 2,
    selectedMode: false,
    lineStyle: {width: 'inherit'},
    itemStyle: {opacity: 0},
    textStyle: {fontFamily: labelFont, fontSize: 18, color: '#222'},
    data: legendData
  },
  grid: {
    left: 159, right: 245, top: 66, bottom: 75,
    outerBoundsMode: 'none',
    show: true, borderColor: '#666', borderWidth: 1.5, backgroundColor: 'transparent'
  },
  xAxis: {
    type: 'value', min: 1, max: 9, interval: 0.5,
    axisLine: {onZero: false, lineStyle: {color: '#222', width: 2}},
    axisTick: {length: 8, lineStyle: {color: '#000', width: 2}},
    axisLabel: {
      margin: 21, fontFamily: labelFont, fontSize: 17, color: '#333',
      formatter: function (v) { return v.toFixed(2); }
    },
    splitLine: {show: true, lineStyle: gridDots},
    name: 'BM Energy (MeV)', nameLocation: 'middle', nameGap: 46,
    nameTextStyle: {fontFamily: boldFont, fontWeight: 'bold', fontSize: 26, color: '#000'}
  },
  yAxis: {
    type: 'log', logBase: 10, min: 1e-5, max: 2,
    axisLine: {show: true, lineStyle: {color: '#000', width: 2}},
    axisTick: {show: true, length: 6, lineStyle: {color: '#000', width: 2.5}},
    axisLabel: {
      margin: 16, fontFamily: labelFont, fontSize: 17, color: '#333',
      formatter: function (v) {
        for (var j = 0; j < yTickValues.length; j++) {
          if (Math.abs(Math.log10(v) - Math.log10(yTickValues[j])) < 0.01) return yTickLabels[j];
        }
        return '';
      }
    },
    splitLine: {show: true, lineStyle: gridDots},
    name: 'Intensity', nameLocation: 'middle', nameRotate: 90, nameGap: 115,
    nameTextStyle: {fontFamily: boldFont, fontWeight: 'bold', fontSize: 26, color: '#000'}
  },
  graphic: [
    {type: 'rect', z: -10, silent: true, shape: {x: 8, y: 6, width: 1600, height: 1300},
      style: {fill: 'none', stroke: '#8f8f8f', lineWidth: 2}},
    {type: 'text', left: 1370, top: 1048, silent: true,
      style: {text: 'Taken f', font: '44px "Liberation Sans"', fill: '#000'}},
    {type: 'text', left: 1440, top: 1105, silent: true,
      style: {text: 'using', font: '44px "Liberation Sans"', fill: '#000'}}
  ],
  series: series
});
</script>
</body>
</html>
